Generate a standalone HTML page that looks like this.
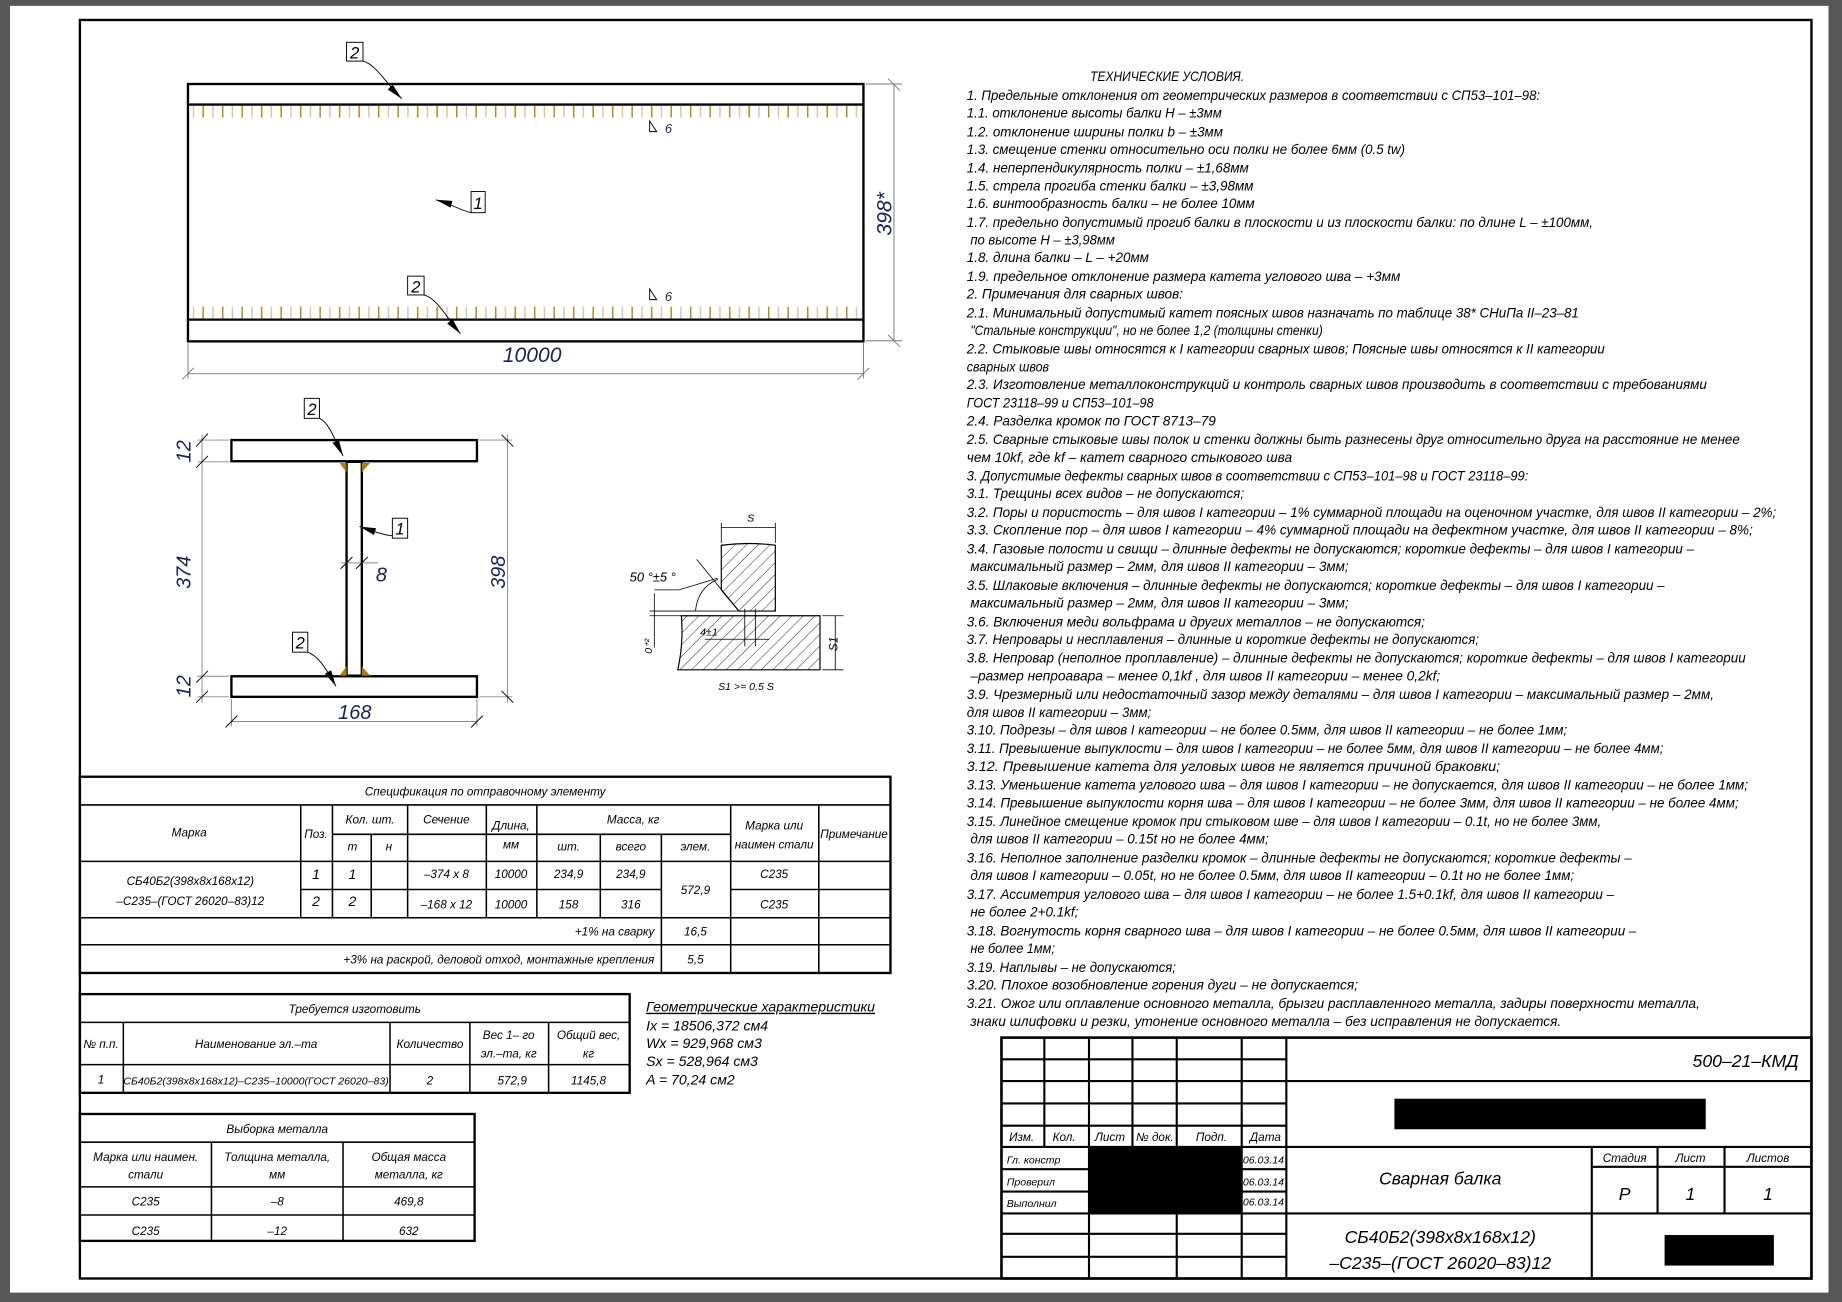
<!DOCTYPE html>
<html><head><meta charset="utf-8"><style>
html,body{margin:0;padding:0;background:#575757;}
svg{display:block}
text{font-family:"Liberation Sans","Noto Sans CJK SC",sans-serif;font-style:italic;fill:#000}
.n{font-size:11px}
.s{font-size:10px}
.d{fill:#1b2150}
</style></head><body>
<svg width="1842" height="1302" viewBox="0 0 1568 1108" preserveAspectRatio="none" xmlns="http://www.w3.org/2000/svg">
<defs>
<pattern id="tk" x="164" y="0" width="16.6" height="20" patternUnits="userSpaceOnUse">
<rect x="0" y="0" width="1.3" height="20" fill="#d8c6a6"/>
<rect x="8.3" y="0" width="1.3" height="20" fill="#b58a1e"/>
</pattern>
<pattern id="ht" width="7" height="7" patternUnits="userSpaceOnUse" patternTransform="rotate(45)">
<line x1="0" y1="0" x2="0" y2="7" stroke="#000" stroke-width="0.7"/>
</pattern>
<marker id="ar" markerWidth="14" markerHeight="6" refX="14" refY="3" orient="auto" markerUnits="userSpaceOnUse"><path d="M0,0 L14,3 L0,6 Z" fill="#000"/></marker>
</defs>
<rect x="0" y="0" width="1568" height="1108" fill="#575757"/>
<rect x="8.5" y="5" width="1548" height="1095" fill="#fff"/>
<rect x="68" y="17" width="1474" height="1071" fill="none" stroke="#000" stroke-width="2"/>

<!-- beam elevation -->
<g fill="none" stroke="#000">
<rect x="160" y="71.5" width="575" height="219" stroke-width="2"/>
<line x1="160" y1="89" x2="735" y2="89" stroke-width="2"/>
<line x1="160" y1="272" x2="735" y2="272" stroke-width="2"/>
</g>
<rect x="164" y="90" width="568" height="10" fill="url(#tk)"/>
<rect x="164" y="261" width="568" height="10" fill="url(#tk)"/>
<g stroke="#777" stroke-width="0.8" fill="none">
<line x1="160" y1="292" x2="160" y2="322"/><line x1="735" y1="292" x2="735" y2="322"/>
<line x1="160" y1="318" x2="735" y2="318"/>
<line x1="155" y1="323" x2="165" y2="313"/><line x1="730" y1="323" x2="740" y2="313"/>
<line x1="737" y1="71.5" x2="768" y2="71.5"/><line x1="737" y1="290" x2="768" y2="290"/>
<line x1="761" y1="71.5" x2="761" y2="290"/>
<line x1="756" y1="67" x2="766" y2="77"/><line x1="756" y1="285" x2="766" y2="295"/>
</g>
<text x="453" y="308" font-size="18" text-anchor="middle" class="d">10000</text>
<text transform="translate(759,182) rotate(-90)" font-size="18" text-anchor="middle" class="d">398*</text>
<path d="M553,103 L553,112 L559,112 Z" fill="none" stroke="#000" stroke-width="0.8"/><text x="566" y="113" font-size="11" class="d">6</text>
<path d="M553,246 L553,255 L559,255 Z" fill="none" stroke="#000" stroke-width="0.8"/><text x="566" y="256" font-size="11" class="d">6</text>
<g fill="none" stroke="#000" stroke-width="0.8">
<rect x="295" y="36" width="14" height="16" fill="#fff"/><path d="M309,52 C320,55 328,70 342,84" marker-end="url(#ar)"/>
<rect x="401" y="163" width="12" height="18" fill="#fff"/><path d="M401,181 C392,179 385,174 371,170" marker-end="url(#ar)"/>
<rect x="347" y="235" width="14" height="16" fill="#fff"/><path d="M361,251 C372,254 380,270 392,284" marker-end="url(#ar)"/>
</g>
<text x="302" y="50" font-size="14" text-anchor="middle">2</text>
<text x="407" y="178" font-size="14" text-anchor="middle">1</text>
<text x="354" y="249" font-size="14" text-anchor="middle">2</text>

<!-- cross section -->
<g fill="none" stroke="#000" stroke-width="2">
<rect x="197" y="374.5" width="209" height="18"/>
<rect x="197" y="575.5" width="209" height="17.5"/>
<rect x="295" y="393" width="13" height="182"/>
</g>
<g fill="#a87c10">
<path d="M289,394 L295,394 L295,402 Z"/><path d="M308,394 L315,394 L308,402 Z"/>
<path d="M289,575 L295,575 L295,567 Z"/><path d="M308,575 L315,575 L308,567 Z"/>
</g>
<g stroke="#888" stroke-width="0.8" fill="none">
<line x1="168" y1="374.5" x2="195" y2="374.5"/><line x1="168" y1="393" x2="195" y2="393"/>
<line x1="168" y1="575.5" x2="195" y2="575.5"/><line x1="168" y1="593" x2="195" y2="593"/>
<line x1="172" y1="370" x2="172" y2="598"/>
<line x1="408" y1="374.5" x2="436" y2="374.5"/><line x1="408" y1="593" x2="436" y2="593"/>
<line x1="432" y1="370" x2="432" y2="598"/>
<line x1="197" y1="595" x2="197" y2="618"/><line x1="406" y1="595" x2="406" y2="618"/>
<line x1="197" y1="614" x2="406" y2="614"/>
<line x1="290" y1="479" x2="322" y2="479"/>
</g>
<g stroke="#000" stroke-width="0.8">
<line x1="167" y1="380" x2="177" y2="369"/><line x1="167" y1="398" x2="177" y2="388"/>
<line x1="167" y1="581" x2="177" y2="571"/><line x1="167" y1="598" x2="177" y2="588"/>
<line x1="427" y1="370" x2="437" y2="380"/><line x1="427" y1="588" x2="437" y2="598"/>
<line x1="192" y1="619" x2="202" y2="609"/><line x1="401" y1="619" x2="411" y2="609"/>
<line x1="290" y1="484" x2="300" y2="474"/><line x1="303" y1="484" x2="313" y2="474"/>
</g>
<text transform="translate(162,384) rotate(-90)" font-size="17" text-anchor="middle" class="d">12</text>
<text transform="translate(162,487) rotate(-90)" font-size="17" text-anchor="middle" class="d">374</text>
<text transform="translate(162,584) rotate(-90)" font-size="17" text-anchor="middle" class="d">12</text>
<text transform="translate(430,487) rotate(-90)" font-size="17" text-anchor="middle" class="d">398</text>
<text x="302" y="612" font-size="17" text-anchor="middle" class="d">168</text>
<text x="320" y="495" font-size="17" class="d">8</text>
<g fill="none" stroke="#000" stroke-width="0.8">
<rect x="259" y="339" width="13" height="17" fill="#fff"/><path d="M272,356 C280,360 284,372 292,388" marker-end="url(#ar)"/>
<rect x="334" y="441" width="13" height="17" fill="#fff"/><path d="M334,456 C325,455 318,452 306,448" marker-end="url(#ar)"/>
<rect x="249" y="538" width="13" height="17" fill="#fff"/><path d="M262,555 C270,558 276,566 286,584" marker-end="url(#ar)"/>
</g>
<text x="265.5" y="353" font-size="14" text-anchor="middle">2</text>
<text x="340.5" y="455" font-size="14" text-anchor="middle">1</text>
<text x="255.5" y="552" font-size="14" text-anchor="middle">2</text>

<!-- weld detail -->
<path d="M614,464 Q637,461 660,464 L660,520 L629,520 L614,502 Z" fill="url(#ht)" stroke="#000" stroke-width="1"/>
<path d="M580,524 L698,524 L698,570 L577,570 Q582,547 580,524 Z" fill="url(#ht)" stroke="#000" stroke-width="1"/>
<g stroke="#000" stroke-width="0.7" fill="none">
<line x1="614" y1="462" x2="614" y2="445"/><line x1="660" y1="462" x2="660" y2="445"/>
<line x1="614" y1="449" x2="660" y2="449"/>
<line x1="629" y1="520" x2="593" y2="476"/>
<path d="M611,493 Q594,500 592,520"/>
<path d="M557,502 L578,502 L611,492"/>
<line x1="553" y1="520" x2="629" y2="520"/><line x1="553" y1="524" x2="580" y2="524"/>
<line x1="557" y1="505" x2="557" y2="551"/>
<line x1="634" y1="518" x2="634" y2="550"/><line x1="643" y1="518" x2="643" y2="550"/>
<line x1="600" y1="544" x2="655" y2="544"/>
<line x1="700" y1="524" x2="718" y2="524"/><line x1="700" y1="570" x2="718" y2="570"/>
<line x1="711" y1="524" x2="711" y2="570"/>
</g>
<text x="636" y="444" font-size="9">S</text>
<text x="536" y="495" font-size="11">50 °±5 °</text>
<text x="596" y="541" font-size="9">4±1</text>
<text transform="translate(555,550) rotate(-90)" font-size="9" text-anchor="middle">0⁺²</text>
<text transform="translate(713,548) rotate(-90)" font-size="10" text-anchor="middle">S1</text>
<text x="635" y="587" font-size="9" text-anchor="middle">S1 &gt;= 0,5 S</text>

<!-- spec table -->
<g stroke="#000" fill="none" stroke-width="1.3">
<rect x="68" y="661" width="690" height="167" stroke-width="2"/>
<line x1="68" y1="685" x2="758" y2="685"/>
<line x1="68" y1="733" x2="758" y2="733"/>
<line x1="283" y1="710" x2="622" y2="710"/>
<line x1="256" y1="757" x2="563" y2="757"/><line x1="622" y1="757" x2="758" y2="757"/>
<line x1="68" y1="781" x2="758" y2="781"/>
<line x1="68" y1="804" x2="758" y2="804"/>
<line x1="256" y1="685" x2="256" y2="781"/>
<line x1="283" y1="685" x2="283" y2="781"/>
<line x1="316" y1="710" x2="316" y2="781"/>
<line x1="347" y1="685" x2="347" y2="781"/>
<line x1="414" y1="685" x2="414" y2="781"/>
<line x1="457" y1="685" x2="457" y2="781"/>
<line x1="511" y1="710" x2="511" y2="781"/>
<line x1="563" y1="710" x2="563" y2="828"/>
<line x1="622" y1="685" x2="622" y2="828"/>
<line x1="697" y1="685" x2="697" y2="828"/>
</g>
<g class="s" text-anchor="middle">
<text x="413" y="677">Спецификация по отправочному элементу</text>
<text x="161" y="712">Марка</text>
<text x="269" y="713">Поз.</text>
<text x="315" y="701">Кол. шт.</text>
<text x="300" y="724">т</text><text x="331" y="724">н</text>
<text x="380" y="701">Сечение</text>
<text x="435" y="706">Длина,</text><text x="435" y="722">мм</text>
<text x="539" y="701">Масса, кг</text>
<text x="484" y="724">шт.</text><text x="537" y="724">всего</text><text x="592" y="724">элем.</text>
<text x="659" y="706">Марка или</text><text x="659" y="722">наимен стали</text>
<text x="727" y="713">Примечание</text>
<text x="162" y="753">СБ40Б2(398х8х168х12)</text>
<text x="162" y="770">–С235–(ГОСТ 26020–83)12</text>
<text x="269" y="748" font-size="12">1</text><text x="269" y="771" font-size="12">2</text>
<text x="300" y="748" font-size="12">1</text><text x="300" y="771" font-size="12">2</text>
<text x="380" y="747">–374 х 8</text><text x="380" y="773">–168 х 12</text>
<text x="435" y="747">10000</text><text x="435" y="773">10000</text>
<text x="484" y="747">234,9</text><text x="484" y="773">158</text>
<text x="537" y="747">234,9</text><text x="537" y="773">316</text>
<text x="592" y="761">572,9</text>
<text x="659" y="747">С235</text><text x="659" y="773">С235</text>
<text x="592" y="796">16,5</text><text x="592" y="820">5,5</text>
</g>
<text x="557" y="796" class="s" text-anchor="end">+1% на сварку</text>
<text x="557" y="820" class="s" text-anchor="end">+3% на раскрой, деловой отход, монтажные крепления</text>

<!-- table 2 -->
<g stroke="#000" fill="none" stroke-width="1.3">
<rect x="68" y="846" width="468" height="84" stroke-width="2"/>
<line x1="68" y1="870" x2="536" y2="870"/>
<line x1="68" y1="906" x2="536" y2="906"/>
<line x1="105" y1="870" x2="105" y2="930"/>
<line x1="332" y1="870" x2="332" y2="930"/>
<line x1="400" y1="870" x2="400" y2="930"/>
<line x1="467" y1="870" x2="467" y2="930"/>
</g>
<g class="s" text-anchor="middle">
<text x="302" y="862">Требуется изготовить</text>
<text x="86" y="892">№ п.п.</text>
<text x="218" y="892">Наименование эл.–та</text>
<text x="366" y="892">Количество</text>
<text x="433" y="884">Вес  1– го</text><text x="433" y="900">эл.–та, кг</text>
<text x="501" y="884">Общий вес,</text><text x="501" y="900">кг</text>
<text x="86" y="922">1</text>
<text x="218" y="923" font-size="9">СБ40Б2(398х8х168х12)–С235–10000(ГОСТ 26020–83)</text>
<text x="366" y="923">2</text><text x="436" y="923">572,9</text><text x="501" y="923">1145,8</text>
</g>
<g font-size="12">
<text x="550" y="861" text-decoration="underline">Геометрические характеристики</text>
<text x="550" y="877">Ix = 18506,372 см4</text>
<text x="550" y="892">Wx = 929,968 см3</text>
<text x="550" y="907">Sx = 528,964 см3</text>
<text x="550" y="923">A = 70,24 см2</text>
</g>

<!-- table 3 -->
<g stroke="#000" fill="none" stroke-width="1.3">
<rect x="68" y="948" width="336" height="108" stroke-width="2"/>
<line x1="68" y1="972" x2="404" y2="972"/>
<line x1="68" y1="1010" x2="404" y2="1010"/>
<line x1="68" y1="1034" x2="404" y2="1034"/>
<line x1="180" y1="972" x2="180" y2="1056"/>
<line x1="292" y1="972" x2="292" y2="1056"/>
</g>
<g class="s" text-anchor="middle">
<text x="236" y="964">Выборка металла</text>
<text x="124" y="988">Марка или наимен.</text><text x="124" y="1003">стали</text>
<text x="236" y="988">Толщина металла,</text><text x="236" y="1003">мм</text>
<text x="348" y="988">Общая масса</text><text x="348" y="1003">металла, кг</text>
<text x="124" y="1026">С235</text><text x="236" y="1026">–8</text><text x="348" y="1026">469,8</text>
<text x="124" y="1051">С235</text><text x="236" y="1051">–12</text><text x="348" y="1051">632</text>
</g>

<!-- title block -->
<g stroke="#000" fill="none" stroke-width="1.8">
<rect x="852.5" y="883" width="689.5" height="205" stroke-width="2.2"/>
<line x1="1095" y1="883" x2="1095" y2="1088"/>
<line x1="852.5" y1="901.5" x2="1095" y2="901.5"/>
<line x1="852.5" y1="920" x2="1542" y2="920"/>
<line x1="852.5" y1="939" x2="1095" y2="939"/>
<line x1="852.5" y1="958" x2="1095" y2="958"/>
<line x1="852.5" y1="976" x2="1542" y2="976"/>
<line x1="852.5" y1="995" x2="1095" y2="995"/>
<line x1="852.5" y1="1014" x2="1095" y2="1014"/>
<line x1="852.5" y1="1032.6" x2="1542" y2="1032.6"/>
<line x1="852.5" y1="1050" x2="1095" y2="1050"/>
<line x1="852.5" y1="1069.5" x2="1095" y2="1069.5"/>
<line x1="889" y1="883" x2="889" y2="976"/>
<line x1="927" y1="883" x2="927" y2="1088"/>
<line x1="964" y1="883" x2="964" y2="976"/>
<line x1="1001.7" y1="883" x2="1001.7" y2="1088"/>
<line x1="1057" y1="883" x2="1057" y2="1088"/>
<line x1="1355" y1="976" x2="1355" y2="1088"/>
<line x1="1411" y1="976" x2="1411" y2="1032.6"/>
<line x1="1468" y1="976" x2="1468" y2="1032.6"/>
<line x1="1355" y1="993" x2="1542" y2="993"/>
</g>
<rect x="927" y="976" width="130" height="56.6" fill="#000"/>
<rect x="1187" y="935" width="265" height="26" fill="#000"/>
<rect x="1417" y="1051" width="93" height="26" fill="#000"/>
<g class="s">
<text x="859" y="971">Изм.</text><text x="896" y="971">Кол.</text><text x="932" y="971">Лист</text><text x="967" y="971">№ док.</text><text x="1018" y="971">Подп.</text><text x="1064" y="971">Дата</text>
<text x="857" y="990" font-size="9">Гл. констр</text>
<text x="857" y="1009" font-size="9">Проверил</text>
<text x="857" y="1027" font-size="9">Выполнил</text>
<text x="1058" y="990" font-size="9">06.03.14</text>
<text x="1058" y="1009" font-size="9">06.03.14</text>
<text x="1058" y="1026" font-size="9">06.03.14</text>
<text x="1383" y="989" text-anchor="middle">Стадия</text><text x="1439" y="989" text-anchor="middle">Лист</text><text x="1505" y="989" text-anchor="middle">Листов</text>
</g>
<text x="1531" y="908" font-size="15" text-anchor="end">500–21–КМД</text>
<text x="1226" y="1008" font-size="15" text-anchor="middle">Сварная балка</text>
<text x="1383" y="1021" font-size="15" text-anchor="middle">Р</text>
<text x="1439" y="1021" font-size="15" text-anchor="middle">1</text>
<text x="1505" y="1021" font-size="15" text-anchor="middle">1</text>
<text x="1226" y="1058" font-size="15" text-anchor="middle">СБ40Б2(398х8х168х12)</text>
<text x="1226" y="1080" font-size="15" text-anchor="middle">–С235–(ГОСТ 26020–83)12</text>

<!-- notes -->
<g font-size="11.5" lengthAdjust="spacingAndGlyphs">
<text x="928" y="69" textLength="131" lengthAdjust="spacingAndGlyphs">ТЕХНИЧЕСКИЕ УСЛОВИЯ.</text>
<text x="823" y="85" textLength="488" lengthAdjust="spacingAndGlyphs">1. Предельные отклонения от геометрических размеров в соответствии с СП53–101–98:</text>
<text x="823" y="100" textLength="217" lengthAdjust="spacingAndGlyphs">1.1. отклонение высоты балки  H – ±3мм</text>
<text x="823" y="116" textLength="218" lengthAdjust="spacingAndGlyphs">1.2. отклонение ширины полки  b – ±3мм</text>
<text x="823" y="131" textLength="373" lengthAdjust="spacingAndGlyphs">1.3. смещение стенки относительно оси полки не более 6мм (0.5 tw)</text>
<text x="823" y="147" textLength="240" lengthAdjust="spacingAndGlyphs">1.4. неперпендикулярность полки – ±1,68мм</text>
<text x="823" y="162" textLength="244" lengthAdjust="spacingAndGlyphs">1.5. стрела прогиба стенки балки – ±3,98мм</text>
<text x="823" y="177" textLength="245" lengthAdjust="spacingAndGlyphs">1.6. винтообразность балки – не более 10мм</text>
<text x="823" y="193" textLength="533" lengthAdjust="spacingAndGlyphs">1.7. предельно допустимый прогиб балки в плоскости и из плоскости балки: по длине L – ±100мм,</text>
<text x="826" y="208" textLength="123" lengthAdjust="spacingAndGlyphs">по высоте H – ±3,98мм</text>
<text x="823" y="223" textLength="155" lengthAdjust="spacingAndGlyphs">1.8. длина балки – L – +20мм</text>
<text x="823" y="239" textLength="369" lengthAdjust="spacingAndGlyphs">1.9. предельное отклонение размера катета углового шва – +3мм</text>
<text x="823" y="254" textLength="184" lengthAdjust="spacingAndGlyphs">2. Примечания для сварных швов:</text>
<text x="823" y="270" textLength="521" lengthAdjust="spacingAndGlyphs">2.1. Минимальный допустимый катет поясных швов назначать по таблице 38* СНиПа II–23–81</text>
<text x="826" y="285" textLength="300" lengthAdjust="spacingAndGlyphs">"Стальные конструкции", но не более 1,2 (толщины стенки)</text>
<text x="823" y="301" textLength="543" lengthAdjust="spacingAndGlyphs">2.2. Стыковые швы относятся к I категории сварных швов; Поясные швы относятся к II категории</text>
<text x="823" y="316" textLength="70" lengthAdjust="spacingAndGlyphs">сварных швов</text>
<text x="823" y="331" textLength="630" lengthAdjust="spacingAndGlyphs">2.3. Изготовление металлоконструкций и контроль сварных швов производить в соответствии с требованиями</text>
<text x="823" y="347" textLength="159" lengthAdjust="spacingAndGlyphs">ГОСТ 23118–99 и СП53–101–98</text>
<text x="823" y="362" textLength="212" lengthAdjust="spacingAndGlyphs">2.4. Разделка кромок по ГОСТ 8713–79</text>
<text x="823" y="378" textLength="658" lengthAdjust="spacingAndGlyphs">2.5. Сварные стыковые швы полок и стенки должны быть разнесены друг относительно друга на расстояние не менее</text>
<text x="823" y="393" textLength="277" lengthAdjust="spacingAndGlyphs">чем 10kf, где kf – катет сварного стыкового шва</text>
<text x="823" y="409" textLength="478" lengthAdjust="spacingAndGlyphs">3. Допустимые дефекты сварных швов в соответствии с СП53–101–98 и ГОСТ 23118–99:</text>
<text x="823" y="424" textLength="236" lengthAdjust="spacingAndGlyphs">3.1. Трещины всех видов – не допускаются;</text>
<text x="823" y="440" textLength="689" lengthAdjust="spacingAndGlyphs">3.2. Поры и пористость – для швов I категории – 1% суммарной площади на оценочном участке, для швов II категории – 2%;</text>
<text x="823" y="455" textLength="669" lengthAdjust="spacingAndGlyphs">3.3. Скопление пор – для швов I категории – 4% суммарной площади на дефектном участке, для швов II категории – 8%;</text>
<text x="823" y="471" textLength="619" lengthAdjust="spacingAndGlyphs">3.4. Газовые полости и свищи – длинные дефекты не допускаются; короткие дефекты – для швов I категории –</text>
<text x="826" y="486" textLength="322" lengthAdjust="spacingAndGlyphs">максимальный размер – 2мм, для швов II категории – 3мм;</text>
<text x="823" y="502" textLength="594" lengthAdjust="spacingAndGlyphs">3.5. Шлаковые включения – длинные дефекты не допускаются; короткие дефекты – для швов I категории –</text>
<text x="826" y="517" textLength="322" lengthAdjust="spacingAndGlyphs">максимальный размер – 2мм, для швов II категории – 3мм;</text>
<text x="823" y="533" textLength="390" lengthAdjust="spacingAndGlyphs">3.6. Включения меди вольфрама и других металлов – не допускаются;</text>
<text x="823" y="548" textLength="436" lengthAdjust="spacingAndGlyphs">3.7. Непровары и несплавления – длинные и короткие дефекты не допускаются;</text>
<text x="823" y="564" textLength="663" lengthAdjust="spacingAndGlyphs">3.8. Непровар (неполное проплавление) – длинные дефекты не допускаются; короткие дефекты – для швов I категории</text>
<text x="826" y="579" textLength="400" lengthAdjust="spacingAndGlyphs">–размер непроавара – менее 0,1kf , для швов II категории – менее 0,2kf;</text>
<text x="823" y="595" textLength="636" lengthAdjust="spacingAndGlyphs">3.9. Чрезмерный или недостаточный зазор между деталями – для швов I категории – максимальный размер – 2мм,</text>
<text x="823" y="610" textLength="157" lengthAdjust="spacingAndGlyphs">для швов II категории – 3мм;</text>
<text x="823" y="625" textLength="511" lengthAdjust="spacingAndGlyphs">3.10. Подрезы – для швов I категории – не более 0.5мм, для швов II категории – не более 1мм;</text>
<text x="823" y="641" textLength="593" lengthAdjust="spacingAndGlyphs">3.11. Превышение выпуклости – для швов I категории – не более 5мм, для швов II категории – не более 4мм;</text>
<text x="823" y="656" textLength="454" lengthAdjust="spacingAndGlyphs">3.12. Превышение катета для угловых швов не является причиной браковки;</text>
<text x="823" y="672" textLength="665" lengthAdjust="spacingAndGlyphs">3.13. Уменьшение катета углового шва – для швов I категории – не допускается, для швов II категории – не более 1мм;</text>
<text x="823" y="687" textLength="657" lengthAdjust="spacingAndGlyphs">3.14. Превышение выпуклости корня шва – для швов I категории – не более 3мм, для швов II категории – не более 4мм;</text>
<text x="823" y="703" textLength="540" lengthAdjust="spacingAndGlyphs">3.15. Линейное смещение кромок при стыковом шве – для швов I категории – 0.1t, но не более 3мм,</text>
<text x="826" y="718" textLength="254" lengthAdjust="spacingAndGlyphs">для швов II категории – 0.15t но не более 4мм;</text>
<text x="823" y="734" textLength="566" lengthAdjust="spacingAndGlyphs">3.16. Неполное заполнение разделки кромок – длинные дефекты не допускаются; короткие дефекты –</text>
<text x="826" y="749" textLength="514" lengthAdjust="spacingAndGlyphs">для швов I категории – 0.05t, но не более 0.5мм, для швов II категории – 0.1t но не более 1мм;</text>
<text x="823" y="765" textLength="551" lengthAdjust="spacingAndGlyphs">3.17. Ассиметрия углового шва – для швов I категории – не более 1.5+0.1kf, для швов II категории –</text>
<text x="826" y="780" textLength="92" lengthAdjust="spacingAndGlyphs">не более 2+0.1kf;</text>
<text x="823" y="796" textLength="570" lengthAdjust="spacingAndGlyphs">3.18. Вогнутость корня сварного шва – для швов I категории – не более 0.5мм, для швов II категории –</text>
<text x="826" y="811" textLength="72" lengthAdjust="spacingAndGlyphs">не более 1мм;</text>
<text x="823" y="827" textLength="178" lengthAdjust="spacingAndGlyphs">3.19. Наплывы – не допускаются;</text>
<text x="823" y="842" textLength="333" lengthAdjust="spacingAndGlyphs">3.20. Плохое возобновление горения дуги – не допускается;</text>
<text x="823" y="858" textLength="624" lengthAdjust="spacingAndGlyphs">3.21. Ожог или оплавление основного металла, брызги расплавленного металла, задиры поверхности металла,</text>
<text x="826" y="873" textLength="503" lengthAdjust="spacingAndGlyphs">знаки шлифовки и резки, утонение основного металла – без исправления не допускается.</text>
</g>
</svg>
</body></html>
